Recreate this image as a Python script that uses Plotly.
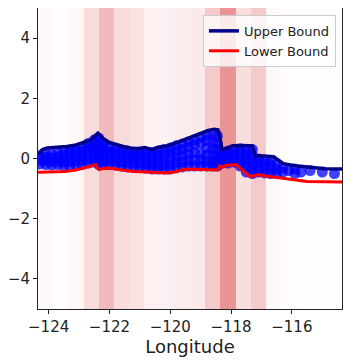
import plotly.graph_objects as go

# background bands: 0.5 degree longitude bins and their shading density
band_lon = [-124.1, -123.6, -123.1, -122.6, -122.1, -121.6, -121.1, -120.6, -120.1, -119.6,
            -119.1, -118.6, -118.1, -117.6, -117.1, -116.6, -116.1, -115.6, -115.1, -114.6]
band_density = [0.037, 0.014, 0.042, 0.20, 0.38, 0.19, 0.157, 0.083, 0.074, 0.106,
                0.116, 0.29, 0.58, 0.18, 0.29, 0.032, 0.014, 0.012, 0.01, 0.01]

# upper bound line
upper_lon = [-124.35, -124.2, -124.05, -123.7, -123.4, -123.1, -122.88, -122.6, -122.45, -122.38,
             -122.3, -122.2, -122.0, -121.8, -121.55, -121.25, -121.0, -120.85, -120.6, -120.35,
             -120.1, -119.7, -119.3, -119.0, -118.75, -118.55, -118.43, -118.37, -118.3, -118.15,
             -117.95, -117.6, -117.3, -117.2, -116.85, -116.6, -116.45, -116.28, -115.9, -115.5,
             -115.2, -114.9, -114.35]
upper_val = [0.15, 0.30, 0.35, 0.37, 0.40, 0.45, 0.52, 0.62, 0.78, 0.84,
             0.76, 0.65, 0.53, 0.46, 0.40, 0.33, 0.33, 0.36, 0.30, 0.38,
             0.42, 0.56, 0.72, 0.86, 0.93, 0.97, 0.95, 0.72, 0.30, 0.33,
             0.42, 0.43, 0.42, 0.10, 0.08, 0.06, -0.05, -0.17, -0.24, -0.27,
             -0.31, -0.34, -0.35]

# lower bound line
lower_lon = [-124.35, -124.0, -123.45, -123.1, -122.88, -122.6, -122.45, -122.4, -122.35, -122.2,
             -122.0, -121.6, -121.2, -120.6, -120.1, -119.8, -119.55, -119.2, -118.8, -118.43,
             -118.38, -118.3, -118.2, -118.0, -117.83, -117.7, -117.4, -117.25, -117.1, -116.85,
             -116.3, -115.9, -115.5, -114.35]
lower_val = [-0.46, -0.45, -0.43, -0.38, -0.32, -0.25, -0.21, -0.30, -0.37, -0.33,
             -0.32, -0.38, -0.43, -0.46, -0.48, -0.44, -0.36, -0.36, -0.36, -0.38,
             -0.25, -0.30, -0.24, -0.23, -0.20, -0.32, -0.58, -0.58, -0.53, -0.58,
             -0.65, -0.72, -0.76, -0.78]

# observed points, grouped by longitude column
cloud = [
    (-124.3, [-0.18, -0.05, 0.08]),
    (-124.1, [-0.2, -0.08, 0.05, 0.15]),
    (-123.9, [-0.22, -0.1, 0.02, 0.14]),
    (-123.7, [-0.2, -0.08, 0.05, 0.18]),
    (-123.5, [-0.25, -0.12, 0.0, 0.12, 0.22]),
    (-123.3, [-0.25, -0.1, 0.05, 0.18, 0.25]),
    (-123.1, [-0.22, -0.08, 0.06, 0.2, 0.3]),
    (-122.9, [-0.2, -0.05, 0.1, 0.25, 0.35]),
    (-122.7, [-0.15, 0.0, 0.15, 0.3, 0.42, 0.5]),
    (-122.5, [-0.12, 0.02, 0.18, 0.35, 0.5, 0.62]),
    (-122.35, [-0.2, -0.05, 0.1, 0.25, 0.4, 0.55, 0.68]),
    (-122.2, [-0.2, -0.05, 0.1, 0.25, 0.4, 0.52]),
    (-122.0, [-0.2, -0.05, 0.1, 0.22, 0.35]),
    (-121.8, [-0.22, -0.08, 0.06, 0.2, 0.3]),
    (-121.6, [-0.25, -0.1, 0.05, 0.18, 0.28]),
    (-121.4, [-0.28, -0.12, 0.02, 0.15, 0.25]),
    (-121.2, [-0.3, -0.15, 0.0, 0.12, 0.22]),
    (-121.0, [-0.3, -0.15, 0.0, 0.12, 0.22]),
    (-120.8, [-0.32, -0.18, -0.02, 0.12, 0.22]),
    (-120.6, [-0.35, -0.2, -0.05, 0.1, 0.2]),
    (-120.4, [-0.35, -0.2, -0.05, 0.1, 0.25]),
    (-120.2, [-0.35, -0.2, -0.02, 0.15, 0.3]),
    (-120.0, [-0.35, -0.18, 0.0, 0.2, 0.35]),
    (-119.8, [-0.3, -0.12, 0.05, 0.25, 0.42]),
    (-119.6, [-0.28, -0.1, 0.1, 0.3, 0.48]),
    (-119.4, [-0.25, -0.05, 0.15, 0.38, 0.55]),
    (-119.2, [-0.25, -0.05, 0.2, 0.45, 0.62]),
    (-119.0, [-0.25, -0.05, 0.15, 0.5, 0.7]),
    (-118.8, [-0.25, -0.08, 0.12, 0.35, 0.6, 0.78]),
    (-118.6, [-0.25, -0.1, 0.08, 0.3, 0.55, 0.8]),
    (-118.45, [-0.25, -0.1, 0.1, 0.3, 0.5, 0.75]),
    (-118.3, [-0.15, 0.0, 0.12, 0.22]),
    (-118.1, [-0.15, 0.0, 0.15, 0.25]),
    (-117.9, [-0.12, 0.02, 0.15, 0.28]),
    (-117.7, [-0.25, -0.1, 0.05, 0.2, 0.32]),
    (-117.5, [-0.45, -0.3, -0.15, 0.0, 0.15, 0.3]),
    (-117.3, [-0.5, -0.35, -0.2, -0.05, 0.1, 0.3]),
    (-117.1, [-0.45, -0.3, -0.15, -0.02]),
    (-116.9, [-0.48, -0.32, -0.18, -0.05]),
    (-116.7, [-0.5, -0.35, -0.2, -0.08]),
    (-116.5, [-0.5, -0.35, -0.2]),
    (-116.3, [-0.45, -0.3]),
    (-116.1, [-0.4]),
    (-115.9, [-0.35, -0.5]),
    (-115.7, [-0.45]),
    (-115.4, [-0.4]),
    (-115.0, [-0.45]),
    (-114.6, [-0.5]),
]

cloud_x = [lon for lon, vals in cloud for v in vals]
cloud_y = [v for lon, vals in cloud for v in vals]

fig = go.Figure()

# shaded longitude bins
fig.add_trace(go.Bar(
    x=band_lon,
    y=[10] * len(band_lon),
    base=-5,
    width=0.5,
    marker=dict(color=["rgba(214,39,40,%.3f)" % (d * 0.85) for d in band_density],
                line=dict(width=0)),
    showlegend=False,
    hoverinfo="skip"
))

fig.add_trace(go.Scatter(
    x=cloud_x, y=cloud_y,
    mode="markers",
    marker=dict(color="blue", size=11, opacity=0.75, line=dict(width=0)),
    showlegend=False
))

fig.add_trace(go.Scatter(
    x=upper_lon, y=upper_val,
    mode="lines",
    line=dict(color="#00008b", width=3.5),
    name="Upper Bound"
))

fig.add_trace(go.Scatter(
    x=lower_lon, y=lower_val,
    mode="lines",
    line=dict(color="red", width=3),
    name="Lower Bound"
))

axis_style = dict(showline=True, mirror=True, linecolor="#222222", linewidth=1,
                  ticks="outside", ticklen=4, tickcolor="#222222",
                  showgrid=False, zeroline=False, tickfont=dict(size=15))

# page body adds an 8px offset, so the figure is a bit smaller than the window
fig.update_layout(
    width=346, height=352,
    margin=dict(l=30, r=12, t=0, b=51),
    plot_bgcolor="white",
    paper_bgcolor="white",
    font=dict(family="DejaVu Sans", size=15, color="#222222"),
    bargap=0,
    legend=dict(x=0.98, y=0.977, xanchor="right", yanchor="top",
                bgcolor="rgba(255,255,255,0.8)", bordercolor="#cccccc", borderwidth=1,
                font=dict(size=13), tracegroupgap=0),
    xaxis=dict(range=[-124.35, -114.35], dtick=2, title=dict(text="Longitude", standoff=2),
               **axis_style),
    yaxis=dict(range=[-5, 5], dtick=2, **axis_style),
)

fig.write_html("out.html")
